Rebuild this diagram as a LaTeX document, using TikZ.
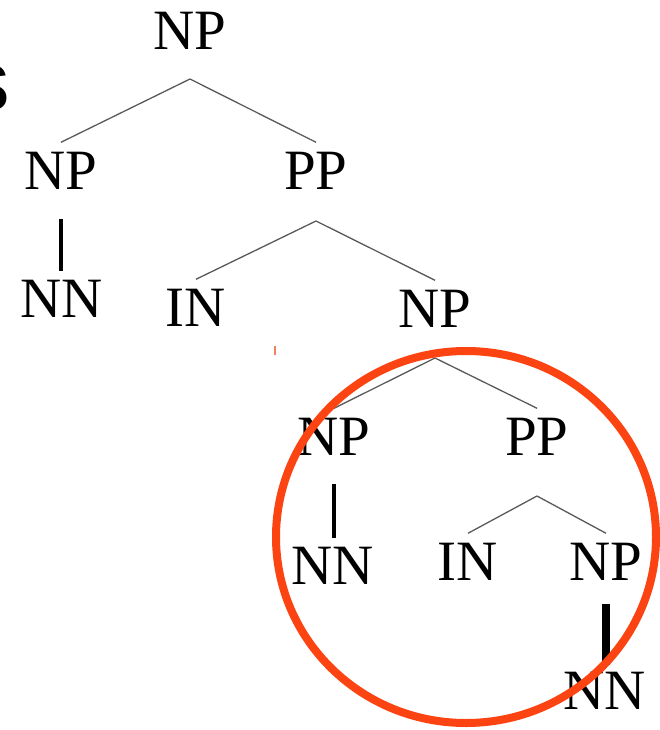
\documentclass[tikz,border=0pt]{standalone}
\usepackage{fontspec}
\setmainfont{Liberation Serif}
\newfontfamily\arialfont{Liberation Sans}
\usepackage{tikz}
\usetikzlibrary{calc, positioning}
\definecolor{ringred}{RGB}{252,68,18}
\definecolor{tickred}{RGB}{242,128,98}

\begin{document}
\begin{tikzpicture}[x=1pt, y=-1pt,
                tag/.style={inner sep=0pt, anchor=south, font=\fontsize{57}{60}\selectfont},
                branch/.style={draw=black!65, line width=1.3pt}]
                \useasboundingbox (0,0) rectangle (660,730);
                % \clip (0,0) rectangle (660,730);
                \node[anchor=base east, inner sep=0pt, font=\arialfont\fontsize{85}{90}\selectfont] (cut) at (10,111) {s};

                \node[tag] at (190,50) (np0) {NP};
                \node[tag] at (61,190) (np1) {NP};
                \node[tag] at (316,190) (pp1) {PP};
                \node[tag] at (62,318) (nn1) {NN};
                \node[tag] at (196,327) (in1) {IN};
                \node[tag] at (435,328) (np2) {NP};
                \node[tag] at (334,456) (np3) {NP};
                \node[tag] at (537,456) (pp2) {PP};
                \node[tag] at (333,585) (nn2) {NN};
                \node[tag] at (468,581) (in2) {IN};
                \node[tag] at (606,581) (np4) {NP};
                \node[tag] at (605,710) (nn3) {NN};

                \foreach \p/\c/\d in {np0/np1/29, np0/pp1/29, pp1/in1/31, pp1/np2/31,
                                      np2/np3/30, np2/pp2/30, pp2/in2/40, pp2/np4/40}
                \draw[branch] ($(\p.south)+(0,\d)$) -- ($(\c.north)+(0,-10)$);

                \foreach \p/\c/\w/\a/\b in {np1/nn1/4/29/9, np3/nn2/4/28/9, np4/nn3/8/23/7}
                \draw[black, line width=\w pt] ($(\p.south)+(0,\a)$) -- ($(\p.south |- \c.north)+(0,-\b)$);

                \draw[ringred, line width=8pt] (466,537) ellipse [x radius=190, y radius=186];
                \draw[tickred, line width=1.8pt] (275,346) -- (275,355);
            \end{tikzpicture}
\end{document}
